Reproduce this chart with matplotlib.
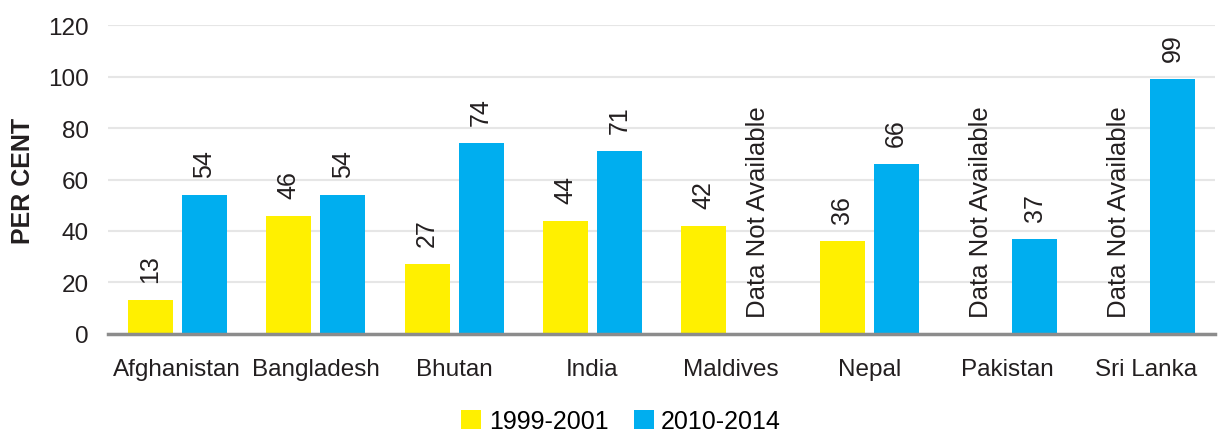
import numpy as np
import matplotlib.pyplot as plt

plt.rcParams['font.family'] = ['Liberation Sans', 'DejaVu Sans']

countries = ['Afghanistan', 'Bangladesh', 'Bhutan', 'India', 'Maldives', 'Nepal', 'Pakistan', 'Sri Lanka']
period_a = [13, 46, 27, 44, 42, 36, None, None]
period_b = [54, 54, 74, 71, None, 66, 37, 99]
series_names = ['1999-2001', '2010-2014']
yticks = [0, 20, 40, 60, 80, 100, 120]

yellow = '#fff000'
blue = '#00aeef'
ink = '#231f20'

fig = plt.figure(figsize=(12.18, 4.35), dpi=100)
ax = fig.add_axes([0.0887, 0.23, 0.909, 0.71])

x = np.arange(len(countries))
w = 0.325
off = 0.195


def draw(vals, pos, color, label):
    first = True
    for xi, v in zip(pos, vals):
        if v is None:
            ax.text(xi, 6.5, 'Data Not Available', rotation=90, ha='center', va='bottom',
                    fontsize=18.5, color=ink)
            continue
        ax.bar(xi, v, width=w, color=color, label=label if first else None, zorder=3)
        first = False
        ax.annotate(str(v), (xi, v), xytext=(0, 13), textcoords='offset points',
                    rotation=90, ha='center', va='bottom', fontsize=18, color=ink)


draw(period_a, x - off, yellow, series_names[0])
draw(period_b, x + off, blue, series_names[1])

ax.set_xlim(-0.5, len(countries) - 0.5)
ax.set_ylim(0, 120)
ax.set_yticks(yticks)
ax.set_xticks(x)
ax.set_xticklabels(countries)
ax.tick_params(axis='both', length=0, labelsize=17.5, colors=ink)
ax.tick_params(axis='y', pad=14)
ax.tick_params(axis='x', pad=17)
ax.grid(axis='y', color='#e6e6e6', linewidth=1.5, zorder=0)
for s in ['top', 'right', 'left']:
    ax.spines[s].set_visible(False)
ax.spines['bottom'].set_color('#8c8c8c')
ax.spines['bottom'].set_linewidth(2.5)
ax.spines['bottom'].set_zorder(4)
ax.set_ylabel('PER CENT', fontsize=18, fontweight='bold', color=ink, labelpad=9)

fig.legend(*ax.get_legend_handles_labels(), loc='center', bbox_to_anchor=(0.51, 0.03),
           ncol=2, frameon=False, fontsize=18, handlelength=0.8, handleheight=0.8,
           handletextpad=0.3, columnspacing=1.0, borderpad=0)

fig.savefig('out.png', dpi=100)
